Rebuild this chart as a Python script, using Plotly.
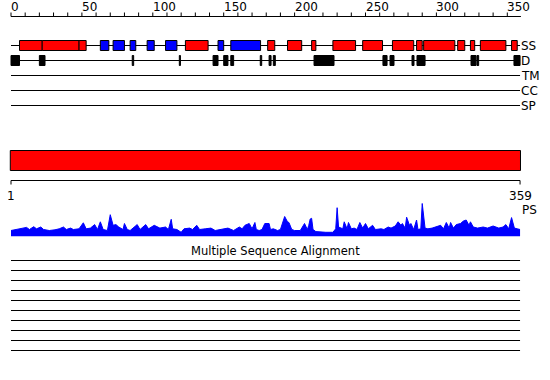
import plotly.graph_objects as go

# ---------------- data ----------------
SEQ_LEN = 359

ruler_ticks = [0, 10, 20, 30, 40, 50, 60, 70, 80, 90, 100, 110, 120, 130, 140, 150, 160, 170,
               180, 190, 200, 210, 220, 230, 240, 250, 260, 270, 280, 290, 300, 310, 320, 330,
               340, 350]
ruler_label_vals = [0, 50, 100, 150, 200, 250, 300, 350]
ruler_label_text = ["0", "50", "100", "150", "200", "250", "300", "350"]

# secondary structure: H = helix (red), E = strand (blue)
ss_start = [6, 22, 48, 63, 72, 84, 96, 109, 123, 146, 155, 181, 195, 212, 227, 248, 269, 286,
            291, 315, 324, 331, 353]
ss_end = [22, 48, 53, 69, 80, 88, 101, 117, 139, 150, 176, 186, 205, 215, 243, 262, 284, 290,
          313, 320, 327, 349, 357]
ss_type = ["H", "H", "H", "E", "E", "E", "E", "E", "H", "E", "E", "H", "H", "H", "H", "H", "H",
           "H", "H", "H", "H", "H", "H"]

# disorder segments
d_start = [0, 20, 85.5, 118.7, 142.5, 150, 155, 175.8, 182, 185, 213.7, 262.3, 267.3, 282.8,
           286.3, 324.4, 328.6, 354.7]
d_end = [6, 24, 86.5, 119.5, 146, 153, 157, 176.8, 183.4, 186.4, 227.8, 265.2, 270.1, 284.2,
         292, 327.9, 329.8, 359]

track_names = ["SS", "D", "TM", "CC", "SP"]

domain_start = [-0.5]
domain_end = [359.3]
seq_label_vals = [0, 359]
seq_label_text = ["1", "359"]

ps_pos = [0, 3, 7, 11, 13, 16, 18, 21, 23, 27, 31, 34, 37, 39, 42, 44, 48, 51, 53, 56, 59, 61,
          63, 65, 68, 70, 72, 74, 76, 79, 80, 82, 84, 86, 89, 91, 95, 97, 101, 105, 109, 111,
          113, 114, 117, 120, 122, 126, 128, 131, 133, 137, 141, 144, 148, 153, 157, 161, 163,
          165, 168, 170, 172, 173, 175, 177, 179, 182, 183, 185, 188, 190, 193, 195, 196, 198,
          200, 204, 207, 209, 210, 211, 212, 213, 215, 219, 222, 227, 229, 230, 231, 234, 235,
          237, 238, 240, 242, 244, 246, 248, 250, 252, 255, 257, 261, 263, 266, 268, 271, 273,
          275, 276, 278, 279, 281, 282, 284, 286, 287, 289, 290, 292, 294, 297, 300, 303, 305,
          307, 309, 310, 312, 314, 317, 319, 321, 323, 324, 326, 329, 333, 336, 340, 344, 347,
          349, 351, 353, 355, 357, 359]
ps_val = [6.0, 7.0, 7.7, 9.1, 7.0, 9.8, 7.7, 9.5, 7.0, 6.0, 6.7, 7.7, 9.5, 7.0, 8.4, 7.0, 7.7,
          13.7, 7.7, 8.4, 11.9, 7.0, 14.7, 7.0, 6.0, 21.8, 11.2, 11.9, 9.5, 7.0, 13.0, 7.0, 6.0,
          8.4, 11.9, 7.0, 11.9, 7.7, 11.2, 8.4, 9.5, 7.0, 17.2, 7.7, 7.0, 4.2, 7.7, 8.4, 7.0,
          11.2, 7.0, 7.7, 8.4, 6.0, 7.0, 8.4, 6.0, 9.5, 7.7, 11.2, 13.0, 7.7, 14.0, 7.0, 6.0,
          7.0, 13.0, 13.0, 7.0, 7.7, 6.0, 7.0, 20.0, 14.7, 14.0, 7.0, 6.0, 6.0, 13.0, 7.0, 11.2,
          17.5, 18.2, 7.0, 4.9, 4.2, 4.2, 4.2, 7.7, 28.8, 9.5, 7.7, 14.7, 7.7, 14.0, 7.7, 8.4,
          7.0, 14.0, 8.4, 13.0, 7.7, 11.2, 7.0, 7.7, 7.0, 9.5, 8.4, 10.5, 14.7, 11.2, 13.0, 8.4,
          19.3, 11.2, 13.0, 7.0, 16.5, 7.0, 7.7, 33.0, 8.4, 7.7, 8.4, 9.5, 11.2, 7.7, 14.0, 8.4,
          14.0, 8.4, 11.9, 13.0, 15.4, 16.5, 11.2, 14.7, 9.5, 8.4, 9.5, 8.4, 10.5, 8.4, 9.5,
          11.9, 7.7, 18.9, 8.4, 7.7, 7.0]

msa_title = "Multiple Sequence Alignment"
msa_rows = 10

# ---------------- layout constants (pixels) ----------------
W, H = 550, 380
PX_PER_RES = 1.418
X0_PX = 11
FONT = "DejaVu Sans"

Y_RULER = 16.5
Y_TRACKS = [45.5, 60.5, 75.5, 90.5, 105.5]
SS_HALF = 5
D_HALF = 5
Y_DOM_TOP, Y_DOM_BOT = 150.5, 170.5
Y_SEQRULER = 180.5
PS_TOP, PS_BASE = 200.0, 236.5
Y_MSA_TITLE = 251
Y_MSA0, MSA_STEP = 260.5, 10

fig = go.Figure()

# track base lines
lx, ly = [], []
for yt in Y_TRACKS:
    lx += [0, SEQ_LEN, None]
    ly += [yt, yt, None]
# rulers
lx += [0, SEQ_LEN + 0.6, None, 0, SEQ_LEN, None]
ly += [Y_RULER, Y_RULER, None, Y_SEQRULER, Y_SEQRULER, None]
# msa lines
for i in range(msa_rows):
    yy = Y_MSA0 + i * MSA_STEP
    lx += [0, SEQ_LEN, None]
    ly += [yy, yy, None]
fig.add_trace(go.Scatter(x=lx, y=ly, mode="lines", line=dict(color="black", width=1),
                         hoverinfo="skip", showlegend=False))

# ruler ticks
tx, ty = [], []
for t in ruler_ticks:
    tx += [t, t, None]
    ty += [Y_RULER - 4, Y_RULER, None]
for v in seq_label_vals:
    tx += [v, v, None]
    ty += [Y_SEQRULER, Y_SEQRULER + 4, None]
fig.add_trace(go.Scatter(x=tx, y=ty, mode="lines", line=dict(color="black", width=1),
                         hoverinfo="skip", showlegend=False))

shapes = []
for s, e, t in zip(ss_start, ss_end, ss_type):
    shapes.append(dict(type="rect", xref="x", yref="y", x0=s, x1=e,
                       y0=Y_TRACKS[0] - SS_HALF, y1=Y_TRACKS[0] + SS_HALF,
                       fillcolor="#ff0000" if t == "H" else "#0000ff",
                       line=dict(color="black", width=1)))
for s, e in zip(d_start, d_end):
    shapes.append(dict(type="rect", xref="x", yref="y", x0=s, x1=e,
                       y0=Y_TRACKS[1] - D_HALF, y1=Y_TRACKS[1] + D_HALF,
                       fillcolor="black", line=dict(color="black", width=1)))
for s, e in zip(domain_start, domain_end):
    shapes.append(dict(type="rect", xref="x", yref="y", x0=s, x1=e,
                       y0=Y_DOM_TOP, y1=Y_DOM_BOT, fillcolor="#ff0000",
                       line=dict(color="black", width=1)))

# PS profile
fig.add_trace(go.Scatter(x=ps_pos, y=ps_val, yaxis="y2", mode="lines",
                         line=dict(color="#0000ff", width=1), fill="tozeroy",
                         fillcolor="#0000ff", hoverinfo="skip", showlegend=False))

ann = []
for v, txt in zip(ruler_label_vals, ruler_label_text):
    ann.append(dict(x=v, y=7, xref="x", yref="y", text=txt, showarrow=False,
                    xanchor="left", yanchor="middle", xshift=-2))
for name, yt in zip(track_names, Y_TRACKS):
    ann.append(dict(x=SEQ_LEN, y=yt, xref="x", yref="y", text=name, showarrow=False,
                    xanchor="left", yanchor="middle", xshift=-1))
for v, txt in zip(seq_label_vals, seq_label_text):
    ann.append(dict(x=v, y=196, xref="x", yref="y", text=txt, showarrow=False,
                    xanchor="center", yanchor="middle"))
ann.append(dict(x=SEQ_LEN, y=210, xref="x", yref="y", text="PS", showarrow=False,
                xanchor="left", yanchor="middle"))
ann.append(dict(x=0.5, y=Y_MSA_TITLE, xref="paper", yref="y", text=msa_title,
                showarrow=False, xanchor="center", yanchor="middle",
                font=dict(size=11.5)))

fig.update_layout(
    width=W, height=H, margin=dict(l=0, r=0, t=0, b=0),
    paper_bgcolor="white", plot_bgcolor="white",
    font=dict(family=FONT, size=12, color="black"),
    showlegend=False,
    xaxis=dict(range=[-X0_PX / PX_PER_RES, (W - X0_PX) / PX_PER_RES], visible=False,
               fixedrange=True),
    yaxis=dict(range=[H, 0], visible=False, fixedrange=True),
    yaxis2=dict(domain=[(H - PS_BASE) / H, (H - PS_TOP) / H], range=[0, PS_BASE - PS_TOP],
                anchor="x", visible=False, fixedrange=True),
    shapes=shapes,
    annotations=ann,
)

fig.write_html("out.html")
